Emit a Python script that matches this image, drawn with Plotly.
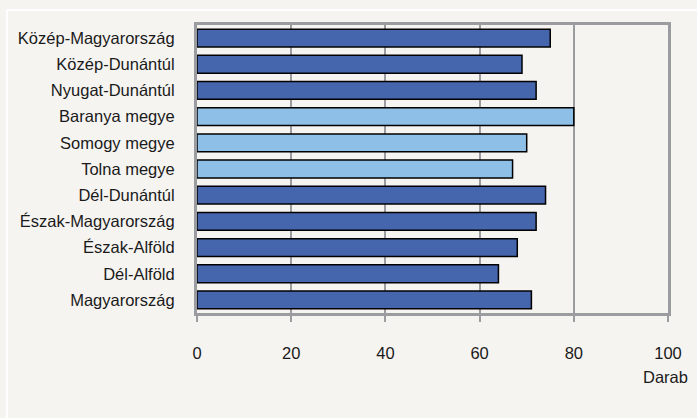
import plotly.graph_objects as go

categories = ["Közép-Magyarország", "Közép-Dunántúl", "Nyugat-Dunántúl",
              "Baranya megye", "Somogy megye", "Tolna megye", "Dél-Dunántúl",
              "Észak-Magyarország", "Észak-Alföld", "Dél-Alföld", "Magyarország"]
values = [75, 69, 72, 80, 70, 67, 74, 72, 68, 64, 71]
highlight = [False, False, False, True, True, True, False, False, False, False, False]
x_ticks = [0, 20, 40, 60, 80, 100]
unit_label = "Darab"

DARK = "#4565AD"
LIGHT = "#8DBFE7"
GRID = "#9A9CA0"
BG = "#F6F4F1"
FONT = "Liberation Sans, Arial, sans-serif"
FS = 16.5

W, H = 697, 418
L, R, T, B = 197, 29, 25, 105
pw, ph = W - L - R, H - T - B

def px_to_paper_x(px):
    return (px - L) / pw

def px_to_paper_y(py):
    return (H - B - py) / ph

fig = go.Figure(go.Bar(
    y=categories, x=values, orientation="h",
    marker=dict(color=[LIGHT if h else DARK for h in highlight],
                line=dict(color="black", width=1.5)),
    width=0.68,
    hoverinfo="skip",
))

fig.update_layout(
    width=W, height=H,
    margin=dict(l=L, r=R, t=T, b=B, pad=0),
    paper_bgcolor=BG, plot_bgcolor=BG,
    font=dict(family=FONT, size=FS, color="#1a1a1a"),
    showlegend=False,
    xaxis=dict(range=[0, 100], tickvals=x_ticks, showgrid=True,
               gridcolor=GRID, gridwidth=1.5, zeroline=False,
               showline=True, linecolor=GRID, linewidth=3, mirror=True,
               ticks="outside", ticklen=6, tickcolor=GRID, tickwidth=1.5,
               ticklabelstandoff=17, tickfont=dict(size=FS)),
    yaxis=dict(autorange="reversed", showgrid=False, zeroline=False,
               showline=True, linecolor=GRID, linewidth=3, mirror=True,
               ticks="", ticklabelstandoff=16, tickfont=dict(size=FS)),
    shapes=[
        dict(type="line", xref="paper", yref="paper",
             x0=px_to_paper_x(7), x1=px_to_paper_x(W + 5),
             y0=px_to_paper_y(10), y1=px_to_paper_y(10),
             line=dict(color="white", width=2)),
        dict(type="line", xref="paper", yref="paper",
             x0=px_to_paper_x(7), x1=px_to_paper_x(7),
             y0=px_to_paper_y(10), y1=px_to_paper_y(H + 5),
             line=dict(color="white", width=2)),
    ],
    annotations=[dict(text=unit_label, xref="paper", yref="paper",
                      x=px_to_paper_x(690), y=px_to_paper_y(377),
                      xanchor="right", yanchor="middle", showarrow=False,
                      font=dict(size=FS))],
)

fig.write_html("out.html",
               config={"displayModeBar": False},
               post_script="document.body.style.margin='0';document.body.style.overflow='hidden';")
